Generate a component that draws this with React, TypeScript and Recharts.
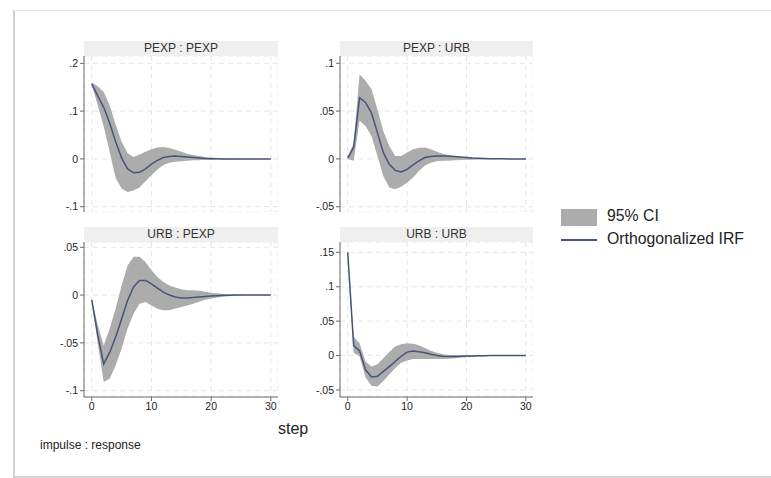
import { ComposedChart, Area, Line, XAxis, YAxis, CartesianGrid } from 'recharts';

const steps = Array.from({ length: 31 }, (_, i) => i);
const xTicks = [0, 10, 20, 30];

// PEXP : PEXP
const pexpPexpIrf = [0.157, 0.132, 0.108, 0.075, 0.036, 0.002, -0.021, -0.029, -0.028, -0.021, -0.011, -0.003, 0.003, 0.005, 0.006, 0.005, 0.004, 0.003, 0.002, 0.001, 0.0005, 0.0002, 0, 0, 0, 0, 0, 0, 0, 0, 0];
const pexpPexpLo = [0.155, 0.112, 0.068, 0.015, -0.04, -0.062, -0.069, -0.066, -0.06, -0.047, -0.034, -0.022, -0.013, -0.008, -0.006, -0.005, -0.004, -0.003, -0.003, -0.002, -0.002, -0.001, -0.001, -0.001, -0.0008, -0.0006, -0.0005, -0.0004, -0.0003, -0.0002, -0.0002];
const pexpPexpHi = [0.16, 0.152, 0.14, 0.112, 0.072, 0.036, 0.012, 0.004, 0.009, 0.015, 0.02, 0.024, 0.025, 0.023, 0.019, 0.015, 0.011, 0.008, 0.006, 0.004, 0.003, 0.002, 0.0015, 0.001, 0.0008, 0.0006, 0.0005, 0.0004, 0.0003, 0.0002, 0.0002];

// PEXP : URB
const pexpUrbIrf = [0.001, 0.012, 0.064, 0.059, 0.048, 0.0275, 0.0066, -0.0056, -0.012, -0.0136, -0.011, -0.0063, -0.002, 0.0014, 0.0025, 0.003, 0.003, 0.0028, 0.0024, 0.002, 0.0015, 0.001, 0.0007, 0.0005, 0.0003, 0.0002, 0.0001, 0, 0, 0, 0];
const pexpUrbLo = [0, -0.002, 0.04, 0.0345, 0.024, 0.003, -0.018, -0.03, -0.0317, -0.029, -0.0248, -0.0195, -0.0126, -0.007, -0.004, -0.0025, -0.002, -0.002, -0.0015, -0.0012, -0.001, -0.0008, -0.0006, -0.0005, -0.0004, -0.0003, -0.0002, -0.0002, -0.0001, -0.0001, -0.0001];
const pexpUrbHi = [0.002, 0.017, 0.0886, 0.0816, 0.073, 0.052, 0.029, 0.0136, 0.003, 0.003, 0.0066, 0.01, 0.0118, 0.012, 0.01, 0.0075, 0.0055, 0.004, 0.003, 0.0022, 0.0016, 0.0012, 0.0009, 0.0007, 0.0005, 0.0004, 0.0003, 0.0002, 0.0002, 0.0001, 0.0001];

// URB : PEXP
const urbPexpIrf = [-0.005, -0.042, -0.072, -0.06, -0.044, -0.025, -0.0056, 0.0084, 0.0153, 0.0153, 0.0118, 0.0073, 0.003, 0, -0.002, -0.003, -0.003, -0.0025, -0.002, -0.0015, -0.001, -0.0006, -0.0003, -0.0001, 0, 0, 0, 0, 0, 0, 0];
const urbPexpLo = [-0.006, -0.05, -0.091, -0.0875, -0.0736, -0.056, -0.035, -0.0195, -0.009, -0.0073, -0.0108, -0.0143, -0.016, -0.016, -0.014, -0.0125, -0.011, -0.009, -0.007, -0.005, -0.0035, -0.0025, -0.0018, -0.0012, -0.0008, -0.0005, -0.0003, -0.0002, -0.0001, -0.0001, -0.0001];
const urbPexpHi = [-0.004, -0.031, -0.053, -0.035, -0.014, 0.01, 0.031, 0.04, 0.04, 0.0345, 0.026, 0.019, 0.0136, 0.01, 0.008, 0.006, 0.005, 0.005, 0.0045, 0.0035, 0.0025, 0.0018, 0.0012, 0.0008, 0.0005, 0.0003, 0.0002, 0.0001, 0.0001, 0.0001, 0.0001];

// URB : URB
const urbUrbIrf = [0.15, 0.0145, 0.0068, -0.0207, -0.031, -0.03, -0.023, -0.016, -0.0087, -0.001, 0.005, 0.0065, 0.0055, 0.004, 0.002, 0, -0.001, -0.0015, -0.0015, -0.001, -0.0008, -0.0005, -0.0003, -0.0001, 0, 0, 0, 0, 0, 0, 0];
const urbUrbLo = [0.15, 0.004, -0.001, -0.032, -0.044, -0.045, -0.037, -0.0275, -0.018, -0.0106, -0.007, -0.005, -0.005, -0.005, -0.005, -0.005, -0.005, -0.0045, -0.004, -0.003, -0.0025, -0.002, -0.0015, -0.001, -0.0008, -0.0006, -0.0004, -0.0003, -0.0002, -0.0001, -0.0001];
const urbUrbHi = [0.151, 0.0275, 0.018, -0.0087, -0.016, -0.0125, -0.004, 0.005, 0.013, 0.0165, 0.018, 0.017, 0.015, 0.011, 0.007, 0.004, 0.002, 0.001, 0.0008, 0.0006, 0.0005, 0.0004, 0.0003, 0.0002, 0.0002, 0.0001, 0.0001, 0.0001, 0.0001, 0.0001, 0.0001];

const FONT = '"Liberation Sans", Arial, sans-serif';
const BAND = '#acacac';
const LINE = '#48537a';
const AXIS = '#6a6a6a';

const fmt = (v: number) => (v === 0 ? '0' : String(v).replace('0.', '.'));

type PanelProps = {
  title: string;
  left: number; // plot region left
  top: number; // header top
  width: number;
  height: number; // plot region height
  irf: number[];
  lo: number[];
  hi: number[];
  yDomain: [number, number];
  yTicks: number[];
  showX: boolean;
};

const Y_W = 50;
const HEAD_H = 15;

function Panel({ title, left, top, width, height, irf, lo, hi, yDomain, yTicks, showX }: PanelProps) {
  const data = steps.map((s, i) => ({ step: s, irf: irf[i], band: [lo[i], hi[i]] }));
  return (
    <>
      <div
        style={{
          position: 'absolute',
          left,
          top,
          width,
          height: HEAD_H,
          background: '#efefef',
          color: '#333',
          fontSize: 12,
          lineHeight: `${HEAD_H}px`,
          textAlign: 'center',
          fontFamily: FONT,
        }}
      >
        {title}
      </div>
      <div style={{ position: 'absolute', left: left - Y_W, top: top + HEAD_H }}>
        <ComposedChart
          width={width + Y_W}
          height={height + (showX ? 24 : 0)}
          data={data}
          margin={{ top: 0, right: 0, bottom: 0, left: 0 }}
          style={{ overflow: 'visible' }}
        >
          <CartesianGrid stroke="#e6e6e6" strokeDasharray="5 4" />
          <XAxis
            dataKey="step"
            type="number"
            domain={[-1.3, 31.2]}
            ticks={xTicks}
            interval={0}
            allowDataOverflow
            hide={!showX}
            height={24}
            tickSize={4}
            stroke={AXIS}
            tick={{ fill: '#222', fontSize: 10.5, fontFamily: FONT }}
          />
          <YAxis
            type="number"
            domain={yDomain}
            ticks={yTicks}
            interval={0}
            allowDataOverflow
            width={Y_W}
            tickSize={4}
            stroke={AXIS}
            tickFormatter={fmt}
            tick={{ fill: '#222', fontSize: 10.5, fontFamily: FONT }}
          />
          <Area
            type="linear"
            dataKey="band"
            stroke="none"
            fill={BAND}
            fillOpacity={1}
            isAnimationActive={false}
            dot={false}
            activeDot={false}
          />
          <Line
            type="linear"
            dataKey="irf"
            stroke={LINE}
            strokeWidth={1.5}
            dot={false}
            activeDot={false}
            isAnimationActive={false}
          />
        </ComposedChart>
      </div>
    </>
  );
}

export default function App() {
  return (
    <div style={{ position: 'absolute', left: 0, top: 0, width: 771, height: 478, background: '#fff', overflow: 'hidden', fontFamily: FONT }}>
      <div
        style={{
          position: 'absolute',
          left: 13,
          top: 10,
          width: 780,
          height: 465,
          borderLeft: '2px solid #cfcfcf',
          borderTop: '1px solid #e4e4e4',
          borderBottom: '2px solid #d4d4d4',
          background: '#fff',
        }}
      />
      <Panel title="PEXP : PEXP" left={84} top={41} width={194} height={156} irf={pexpPexpIrf} lo={pexpPexpLo} hi={pexpPexpHi} yDomain={[-0.1111, 0.2153]} yTicks={[-0.1, 0, 0.1, 0.2]} showX={false} />
      <Panel title="PEXP : URB" left={340} top={41} width={193} height={156} irf={pexpUrbIrf} lo={pexpUrbLo} hi={pexpUrbHi} yDomain={[-0.0555, 0.1076]} yTicks={[-0.05, 0, 0.05, 0.1]} showX={false} />
      <Panel title="URB : PEXP" left={84} top={227} width={194} height={155} irf={urbPexpIrf} lo={urbPexpLo} hi={urbPexpHi} yDomain={[-0.1066, 0.0555]} yTicks={[-0.1, -0.05, 0, 0.05]} showX />
      <Panel title="URB : URB" left={340} top={227} width={193} height={155} irf={urbUrbIrf} lo={urbUrbLo} hi={urbUrbHi} yDomain={[-0.0602, 0.165]} yTicks={[-0.05, 0, 0.05, 0.1, 0.15]} showX />

      <div style={{ position: 'absolute', left: 278, top: 420, fontSize: 16, color: '#222' }}>step</div>
      <div style={{ position: 'absolute', left: 40, top: 438, fontSize: 12, color: '#222' }}>impulse : response</div>

      <div style={{ position: 'absolute', left: 561, top: 209, width: 36, height: 17, background: BAND }} />
      <div style={{ position: 'absolute', left: 607, top: 207, fontSize: 15.8, color: '#222' }}>95% CI</div>
      <div style={{ position: 'absolute', left: 561, top: 239, width: 36, height: 2, background: LINE }} />
      <div style={{ position: 'absolute', left: 607, top: 230, fontSize: 15.8, color: '#222' }}>Orthogonalized IRF</div>
    </div>
  );
}
